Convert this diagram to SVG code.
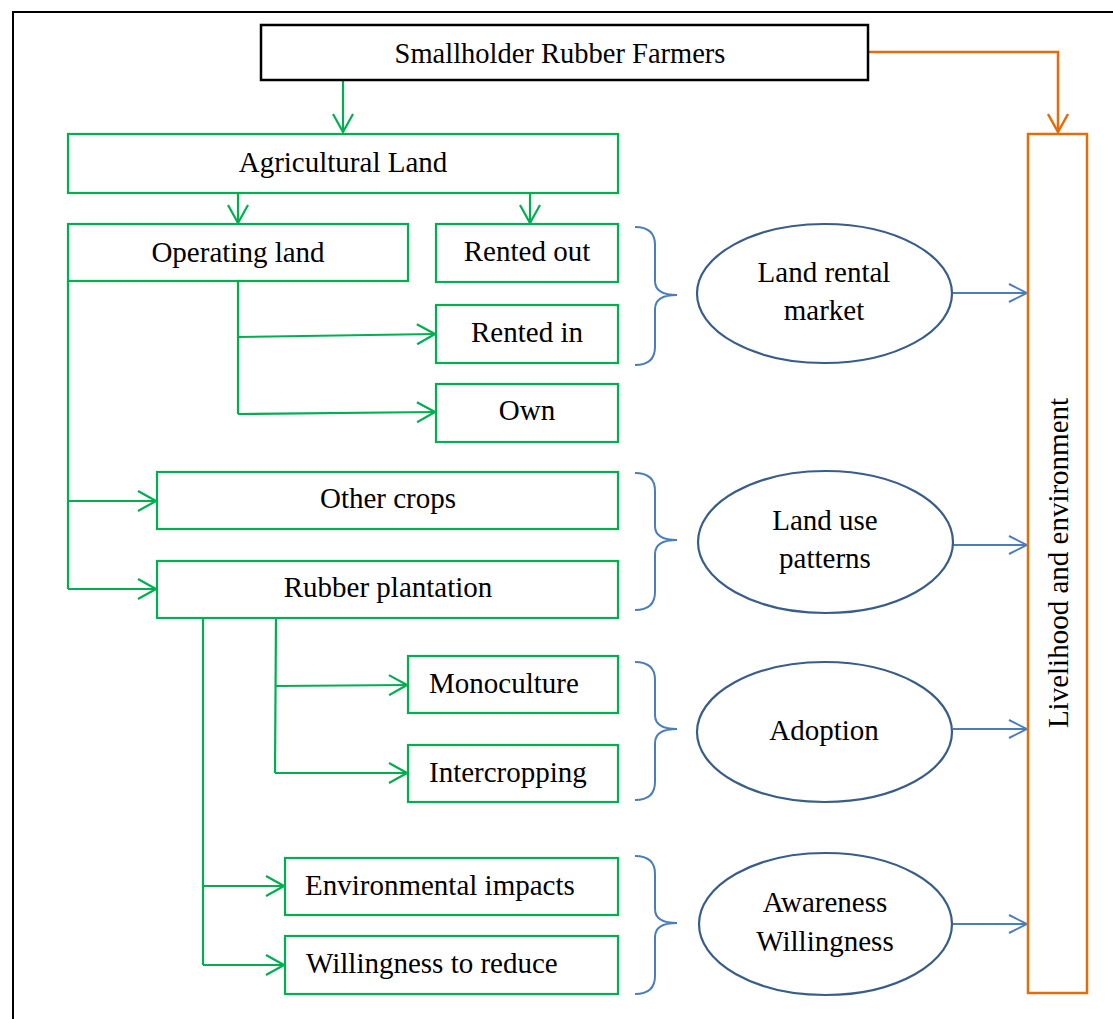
<svg xmlns="http://www.w3.org/2000/svg" width="1113" height="1019" viewBox="0 0 1113 1019">
<style>
text{font-family:"Liberation Serif","Times New Roman",serif;font-size:29px;fill:#000}
.c{text-anchor:middle}
.g{fill:#fff;stroke:#00B050;stroke-width:2.2}
.gl{fill:none;stroke:#00B050;stroke-width:2.2}
.bl{fill:none;stroke:#4A7EBB;stroke-width:2}
.el{fill:#fff;stroke:#385D8A;stroke-width:2.2}
.or{fill:none;stroke:#E46C0A;stroke-width:2.5}
</style>
<defs>
<marker id="ag" markerUnits="userSpaceOnUse" viewBox="0 0 20 22" refX="19" refY="11" markerWidth="20" markerHeight="22" orient="auto"><path d="M1,1 L19,11 L1,21" fill="none" stroke="#00B050" stroke-width="2.2"/></marker>
<marker id="ab" markerUnits="userSpaceOnUse" viewBox="0 0 20 22" refX="19" refY="11" markerWidth="20" markerHeight="22" orient="auto"><path d="M1,2 L19,11 L1,20" fill="none" stroke="#4A7EBB" stroke-width="2"/></marker>
<marker id="ao" markerUnits="userSpaceOnUse" viewBox="0 0 20 22" refX="19" refY="11" markerWidth="20" markerHeight="22" orient="auto"><path d="M1,1 L19,11 L1,21" fill="none" stroke="#E46C0A" stroke-width="2.5"/></marker>
</defs>
<rect x="13" y="12" width="1130" height="1040" fill="none" stroke="#000" stroke-width="2"/>
<g id="connectors">
<path class="gl" d="M343,80 L343,132" marker-end="url(#ag)"/>
<path class="gl" d="M238,193 L238,223" marker-end="url(#ag)"/>
<path class="gl" d="M530,193 L530,223" marker-end="url(#ag)"/>
<path class="gl" d="M238,281 L238,414"/>
<path class="gl" d="M238,337 L435,334" marker-end="url(#ag)"/>
<path class="gl" d="M238,414 L435,412" marker-end="url(#ag)"/>
<path class="gl" d="M68,281 L68,589"/>
<path class="gl" d="M68,501 L156,501" marker-end="url(#ag)"/>
<path class="gl" d="M68,589 L156,589" marker-end="url(#ag)"/>
<path class="gl" d="M276,618 L275,773"/>
<path class="gl" d="M276,686 L407,685" marker-end="url(#ag)"/>
<path class="gl" d="M275,773 L407,773" marker-end="url(#ag)"/>
<path class="gl" d="M203,618 L203,965"/>
<path class="gl" d="M203,886 L284,886" marker-end="url(#ag)"/>
<path class="gl" d="M203,965 L284,965" marker-end="url(#ag)"/>
<path class="or" d="M868,52 L1058,52 L1058,132" marker-end="url(#ao)"/>
<path class="bl" d="M635,227 Q655,227 655,245 L655,281 Q655,295 677,295 Q655,295 655,309 L655,347 Q655,365 635,365"/>
<path class="bl" d="M635,473 Q655,473 655,491 L655,526 Q655,540 677,540 Q655,540 655,554 L655,592 Q655,610 635,610"/>
<path class="bl" d="M635,662 Q655,662 655,680 L655,715 Q655,729 677,729 Q655,729 655,743 L655,782 Q655,800 635,800"/>
<path class="bl" d="M635,856 Q655,856 655,874 L655,909 Q655,923 677,923 Q655,923 655,937 L655,976 Q655,994 635,994"/>
<path class="bl" d="M953,293 L1027,293" marker-end="url(#ab)"/>
<path class="bl" d="M953,545 L1027,545" marker-end="url(#ab)"/>
<path class="bl" d="M953,729 L1027,729" marker-end="url(#ab)"/>
<path class="bl" d="M953,924 L1027,924" marker-end="url(#ab)"/>
</g>
<g id="smallholder"><rect x="261" y="25" width="607" height="55" fill="#fff" stroke="#000" stroke-width="2.5"/><text x="560" y="63" class="c" style="font-size:28.5px">Smallholder Rubber Farmers</text></g>
<g id="agri"><rect class="g" x="68" y="134" width="550" height="59"/><text x="343" y="172" class="c">Agricultural Land</text></g>
<g id="operating"><rect class="g" x="68" y="224" width="340" height="57"/><text x="238" y="262" class="c">Operating land</text></g>
<g id="rentedout"><rect class="g" x="436" y="224" width="182" height="58"/><text x="527" y="261" class="c">Rented out</text></g>
<g id="rentedin"><rect class="g" x="436" y="305" width="182" height="58"/><text x="527" y="342" class="c">Rented in</text></g>
<g id="own"><rect class="g" x="436" y="384" width="182" height="58"/><text x="527" y="420" class="c">Own</text></g>
<g id="othercrops"><rect class="g" x="157" y="472" width="461" height="57"/><text x="388" y="508" class="c">Other crops</text></g>
<g id="rubber"><rect class="g" x="157" y="561" width="461" height="57"/><text x="388" y="597" class="c">Rubber plantation</text></g>
<g id="mono"><rect class="g" x="408" y="656" width="210" height="57"/><text x="429" y="693">Monoculture</text></g>
<g id="inter"><rect class="g" x="408" y="745" width="210" height="57"/><text x="429" y="782">Intercropping</text></g>
<g id="env"><rect class="g" x="285" y="858" width="333" height="57"/><text x="305" y="895">Environmental impacts</text></g>
<g id="will"><rect class="g" x="285" y="936" width="333" height="58"/><text x="306" y="973">Willingness to reduce</text></g>
<g id="landrental"><ellipse class="el" cx="824.5" cy="293.5" rx="127.5" ry="69.5"/><text x="824" y="282" class="c">Land rental</text><text x="824" y="320" class="c">market</text></g>
<g id="landuse"><ellipse class="el" cx="825.5" cy="542" rx="127.5" ry="71"/><text x="825" y="530" class="c">Land use</text><text x="825" y="568" class="c">patterns</text></g>
<g id="adoption"><ellipse class="el" cx="824.5" cy="732" rx="127.5" ry="70"/><text x="824" y="740" class="c">Adoption</text></g>
<g id="awareness"><ellipse class="el" cx="825.5" cy="924" rx="126.5" ry="71"/><text x="825" y="912" class="c">Awareness</text><text x="825" y="951" class="c">Willingness</text></g>
<g id="livelihood"><rect class="or" x="1028" y="134" width="59" height="859" fill="#fff"/><text transform="translate(1068,563) rotate(-90)" class="c">Livelihood and environment</text></g>
</svg>
